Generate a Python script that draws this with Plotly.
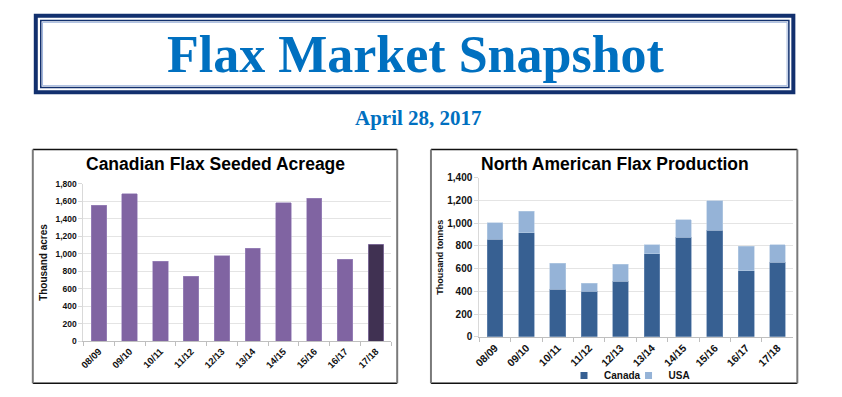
import plotly.graph_objects as go

# ---------------- data ----------------
seasons = ["08/09", "09/10", "10/11", "11/12", "12/13", "13/14", "14/15", "15/16", "16/17", "17/18"]
acreage = [1555, 1685, 915, 740, 980, 1065, 1585, 1635, 935, 1110]          # thousand acres
canada_prod = [860, 915, 420, 400, 490, 730, 875, 940, 580, 655]            # thousand tonnes
usa_prod = [145, 190, 228, 70, 147, 83, 158, 257, 217, 158]                 # thousand tonnes

header_title = "Flax Market Snapshot"
header_date = "April 28, 2017"
left_title = "Canadian Flax Seeded Acreage"
right_title = "North American Flax Production"

# ---------------- style ----------------
W, H = 842, 397
def fx(p): return p / W
def fy(p): return 1 - p / H

PURPLE = "#8064A2"
PURPLE_DARK = "#403152"
HIGHLIGHT = "17/18"
CANADA_C = "#376092"
USA_C = "#95B3D7"
NAVY = "#12306e"
BLUE_TXT = "#0070C0"
SANS = "Liberation Sans, Arial, sans-serif"
SERIF = "Liberation Serif, Times New Roman, serif"

left_colors = [PURPLE_DARK if s == HIGHLIGHT else PURPLE for s in seasons]

fig = go.Figure()
fig.add_trace(go.Bar(x=seasons, y=acreage, marker=dict(color=left_colors, line=dict(color="#a08cc0", width=0.6)),
                     showlegend=False, xaxis="x", yaxis="y", name="Acreage"))
fig.add_trace(go.Bar(x=seasons, y=canada_prod, name="Canada", legendgroup="canada", showlegend=False,
                     marker=dict(color=CANADA_C, line=dict(color="#6f8fb8", width=0.6)),
                     xaxis="x2", yaxis="y2"))
fig.add_trace(go.Bar(x=seasons, y=usa_prod, name="USA", legendgroup="usa", showlegend=False,
                     marker=dict(color=USA_C, line=dict(color="#b9cde5", width=0.6)),
                     xaxis="x2", yaxis="y2"))
# legend proxies (small square keys, as in the original)
fig.add_trace(go.Scatter(x=[None], y=[None], mode="markers", name="Canada", legendgroup="canada",
                         marker=dict(symbol="square", size=7, color=CANADA_C), legend="legend",
                         xaxis="x2", yaxis="y2", hoverinfo="skip"))
fig.add_trace(go.Scatter(x=[None], y=[None], mode="markers", name="USA", legendgroup="usa",
                         marker=dict(symbol="square", size=7, color=USA_C), legend="legend2",
                         xaxis="x2", yaxis="y2", hoverinfo="skip"))

xtick_l = dict(family=SANS, size=9.5, color="#111", weight="bold")
ytick_l = dict(family=SANS, size=8.5, color="#111", weight="bold")
xtick_r = dict(family=SANS, size=10.5, color="#111", weight="bold")
ytick_r = dict(family=SANS, size=10, color="#111", weight="bold")

common_x = dict(type="category", tickangle=-45, tickson="boundaries", ticks="outside", ticklen=4,
                tickcolor="#bfbfbf", showline=True, linecolor="#bfbfbf", linewidth=1,
                showgrid=False, zeroline=False, fixedrange=True)
common_y = dict(dtick=200, tickformat=",", showgrid=True, gridcolor="#e4e4e4", gridwidth=1,
                showline=True, linecolor="#d9d9d9", ticks="outside", ticklen=4, tickcolor="#d9d9d9",
                zeroline=False)

legend_font = dict(family=SANS, size=10, color="#111", weight="bold")

fig.update_layout(
    width=W, height=H, margin=dict(l=0, r=0, t=0, b=0),
    paper_bgcolor="white", plot_bgcolor="white",
    barmode="stack", bargap=0.5,
    xaxis=dict(domain=[fx(78), fx(388)], anchor="y", tickfont=xtick_l, **common_x),
    yaxis=dict(domain=[fy(345.7), fy(183.3)], anchor="x", range=[0, 1800], tickfont=ytick_l,
               title=dict(text="Thousand acres", font=dict(family=SANS, size=10, color="#111", weight="bold"), standoff=5),
               **common_y),
    xaxis2=dict(domain=[fx(476.7), fx(793)], anchor="y2", tickfont=xtick_r, **common_x),
    yaxis2=dict(domain=[fy(341), fy(177.3)], anchor="x2", range=[0, 1400], tickfont=ytick_r,
                title=dict(text="Thousand tonnes", font=dict(family=SANS, size=9, color="#111", weight="bold"), standoff=2),
                **common_y),
    legend=dict(orientation="h", x=fx(562), xanchor="left", y=fy(381), yanchor="middle",
                font=legend_font, itemwidth=30, bgcolor="rgba(0,0,0,0)"),
    legend2=dict(orientation="h", x=fx(627), xanchor="left", y=fy(381), yanchor="middle",
                 font=legend_font, itemwidth=30, bgcolor="rgba(0,0,0,0)"),
)

shapes = []
# header box
shapes.append(dict(type="rect", xref="paper", yref="paper", x0=fx(30), x1=fx(793), y0=fy(89), y1=fy(10),
                   line=dict(color=NAVY, width=4)))
shapes.append(dict(type="rect", xref="paper", yref="paper", x0=fx(35), x1=fx(788.5), y0=fy(84), y1=fy(15),
                   line=dict(color=NAVY, width=1.5)))
shapes.append(dict(type="rect", xref="paper", yref="paper", x0=fx(36.8), x1=fx(786.7), y0=fy(82.2), y1=fy(16.8),
                   line=dict(color="#9db3db", width=1)))
# chart panels
for (l, r) in [(27, 394), (428, 797)]:
    shapes.append(dict(type="line", xref="paper", yref="paper", x0=fx(l), x1=fx(r), y0=fy(148), y1=fy(148),
                       line=dict(color="#111", width=1.5)))
    shapes.append(dict(type="line", xref="paper", yref="paper", x0=fx(l), x1=fx(r), y0=fy(389), y1=fy(389),
                       line=dict(color="#111", width=1.5)))
    shapes.append(dict(type="line", xref="paper", yref="paper", x0=fx(l), x1=fx(l), y0=fy(148), y1=fy(389),
                       line=dict(color="#7a7a7a", width=2)))
    shapes.append(dict(type="line", xref="paper", yref="paper", x0=fx(r), x1=fx(r), y0=fy(148), y1=fy(389),
                       line=dict(color="#7a7a7a", width=2)))
fig.update_layout(shapes=shapes)

annotations = [
    dict(text=header_title, x=fx(413), y=fy(50), xref="paper", yref="paper", showarrow=False,
         xanchor="center", yanchor="middle", font=dict(family=SERIF, size=52, color=BLUE_TXT, weight="bold")),
    dict(text=header_date, x=fx(415), y=fy(116), xref="paper", yref="paper", showarrow=False,
         xanchor="center", yanchor="middle", font=dict(family=SERIF, size=21, color=BLUE_TXT, weight="bold")),
    dict(text=left_title, x=fx(211), y=fy(163), xref="paper", yref="paper", showarrow=False,
         xanchor="center", yanchor="middle", font=dict(family=SANS, size=17.5, color="#000", weight="bold")),
    dict(text=right_title, x=fx(613), y=fy(163), xref="paper", yref="paper", showarrow=False,
         xanchor="center", yanchor="middle", font=dict(family=SANS, size=17.5, color="#000", weight="bold")),
]
fig.update_layout(annotations=annotations)

fig.write_html("out.html", config={"displayModeBar": False},
               post_script="document.body.style.margin='0px';")
